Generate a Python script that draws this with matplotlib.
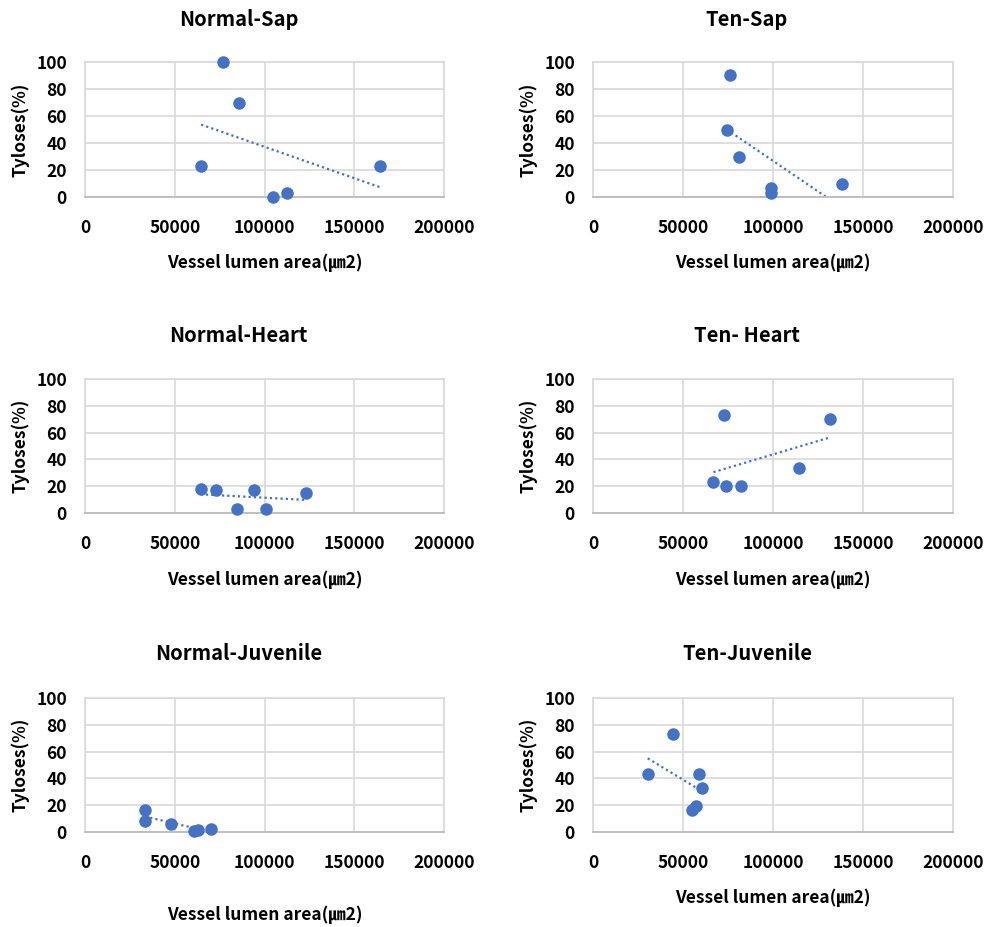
import numpy as np
import matplotlib
matplotlib.use("Agg")
import matplotlib.pyplot as plt

plt.rcParams['font.family'] = ['Noto Sans CJK KR', 'DejaVu Sans']
plt.rcParams['font.weight'] = 'bold'

#%% data (x: vessel lumen area, y: tyloses %)
titles = ['Normal-Sap', 'Ten-Sap', 'Normal-Heart', 'Ten- Heart',
          'Normal-Juvenile', 'Ten-Juvenile']

normal_sap_x = [64700, 77000, 85900, 104500, 112800, 164200]
normal_sap_y = [23, 100, 70, 0, 3, 23]

ten_sap_x = [76300, 74300, 81300, 98900, 98900, 138300]
ten_sap_y = [90, 50, 30, 6.9, 2.7, 10]

normal_heart_x = [64400, 72800, 84500, 94300, 100800, 123100]
normal_heart_y = [17.7, 17.2, 2.8, 17.2, 2.8, 15.1]

ten_heart_x = [72800, 131700, 114400, 66900, 73900, 82200]
ten_heart_y = [73.1, 70, 33.3, 22.9, 19.9, 19.9]

normal_juv_x = [33400, 33400, 47700, 60700, 63000, 70200]
normal_juv_y = [16.4, 8.2, 5.7, 1.1, 1.5, 2.5]

ten_juv_x = [44300, 30400, 58900, 60600, 57200, 55200]
ten_juv_y = [73.4, 43.1, 43.3, 33.1, 19.6, 16.4]

xs = [normal_sap_x, ten_sap_x, normal_heart_x, ten_heart_x, normal_juv_x, ten_juv_x]
ys = [normal_sap_y, ten_sap_y, normal_heart_y, ten_heart_y, normal_juv_y, ten_juv_y]

x_ticks = [0, 50000, 100000, 150000, 200000]
y_ticks = [0, 20, 40, 60, 80, 100]

#%% layout in pixels (left, top, right, bottom)
W, H = 985, 927
boxes = [(85, 62, 444, 197), (593, 62, 953, 197),
         (85, 379, 444, 513), (593, 379, 953, 513),
         (85, 698, 444, 832), (593, 698, 953, 832)]
title_y = [19, 19, 335, 335, 654, 654]
xlabel_off = [66, 66, 67, 67, 83, 66]

blue = '#4472C4'
grid_c = '#D9D9D9'

fig = plt.figure(figsize=(W / 100, H / 100), dpi=100)

for i in range(6):
    l, t, r, b = boxes[i]
    ax = fig.add_axes([l / W, 1 - b / H, (r - l) / W, (b - t) / H])
    x = np.array(xs[i], dtype=float)
    y = np.array(ys[i], dtype=float)

    ax.set_xlim(0, 200000)
    ax.set_ylim(0, 100)
    ax.set_xticks(x_ticks)
    ax.set_yticks(y_ticks)
    ax.grid(True, color=grid_c, lw=1.2)
    ax.set_axisbelow(True)
    for s in ['top', 'right', 'left']:
        ax.spines[s].set_color(grid_c)
        ax.spines[s].set_linewidth(1.2)
    ax.spines['bottom'].set_color('#BFBFBF')
    ax.spines['bottom'].set_linewidth(1.4)
    ax.tick_params(length=0, labelsize=12.5)
    ax.tick_params(axis='x', pad=16)
    ax.tick_params(axis='y', pad=13)
    for lab in ax.get_xticklabels() + ax.get_yticklabels():
        lab.set_fontweight('bold')

    # linear trendline like excel
    k, c = np.polyfit(x, y, 1)
    xt = np.array([x.min(), x.max()])
    ax.plot(xt, k * xt + c, color=blue, lw=1.6, ls=(0, (1, 1.4)), zorder=2)
    ax.plot(x, y, 'o', color=blue, ms=8, mec=blue, zorder=3, clip_on=False)

    ax.set_xlabel('Vessel lumen area(㎛2)', fontsize=12.5, fontweight='bold', va='center')
    ax.xaxis.set_label_coords(0.5, -xlabel_off[i] / (b - t))
    ax.set_ylabel('Tyloses(%)', fontsize=12.5, fontweight='bold', va='center')
    ax.yaxis.set_label_coords(-65 / (r - l), 0.5)

    fig.text(((l + r) / 2 - 26) / W, 1 - title_y[i] / H, titles[i],
             ha='center', va='center', fontsize=14.5, fontweight='bold')

fig.savefig('out.png', dpi=100, facecolor='white')
